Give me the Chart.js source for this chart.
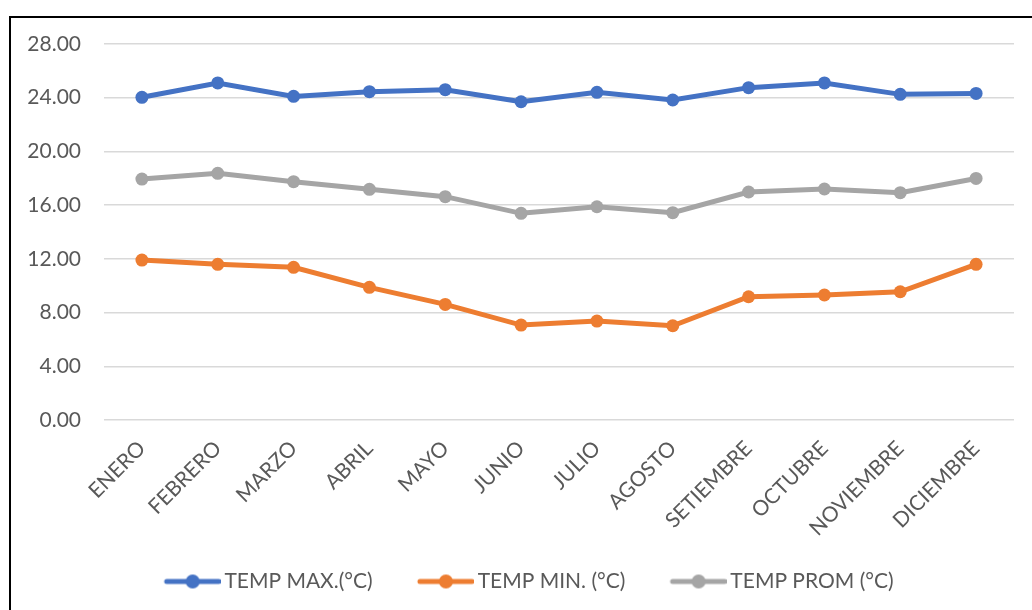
<!DOCTYPE html>
<html>
<head>
<meta charset="utf-8">
<script src="https://cdn.jsdelivr.net/npm/chart.js@4/dist/chart.umd.min.js"></script>
<style>
  html, body { margin: 0; padding: 0; background: #fff; overflow: hidden; }
  #wrap { position: relative; width: 1032px; height: 610px; }
  #frame {
    position: absolute; left: 9px; top: 16px; width: 1100px; height: 700px;
    border-left: 2px solid #000; border-top: 2px solid #000;
  }
  canvas { position: absolute; left: 0; top: 0; }
</style>
</head>
<body>
<div id="wrap">
  <div id="frame"></div>
  <canvas id="chart" width="1032" height="610"></canvas>
</div>
<script>
  // meses
  var MONTHS = ['ENERO', 'FEBRERO', 'MARZO', 'ABRIL', 'MAYO', 'JUNIO', 'JULIO',
    'AGOSTO', 'SETIEMBRE', 'OCTUBRE', 'NOVIEMBRE', 'DICIEMBRE'];

  // temperaturas (°C)
  var TEMP_MAX = [24.03, 25.10, 24.10, 24.45, 24.60, 23.70, 24.40, 23.83, 24.75, 25.10, 24.25, 24.32];
  var TEMP_MIN = [11.91, 11.59, 11.37, 9.88, 8.61, 7.07, 7.37, 7.02, 9.18, 9.31, 9.55, 11.59];
  var TEMP_PROM = [17.94, 18.37, 17.75, 17.18, 16.63, 15.39, 15.88, 15.44, 16.98, 17.20, 16.93, 17.99];

  var SERIES_LABELS = ['TEMP MAX.(°C)', 'TEMP MIN. (°C)', 'TEMP PROM (°C)'];
  var Y_TICKS = [0, 4, 8, 12, 16, 20, 24, 28];

  var COLORS = ['#4472C4', '#ED7D31', '#A5A5A5'];
  var TEXT = '#595959';
  var FONT = 'Lato, "Open Sans", sans-serif';

  // icono de leyenda: línea con punto (alineado a la derecha del lienzo)
  function legendIcon(color) {
    var c = document.createElement('canvas');
    c.width = 98; c.height = 16;
    var g = c.getContext('2d');
    g.strokeStyle = color;
    g.lineWidth = 5;
    g.lineCap = 'round';
    g.beginPath();
    g.moveTo(c.width - 54, 8);
    g.lineTo(c.width - 2, 8);
    g.stroke();
    g.fillStyle = color;
    g.beginPath();
    g.arc(c.width - 28, 8, 7, 0, Math.PI * 2);
    g.fill();
    return c;
  }

  function series(i, values) {
    return {
      label: SERIES_LABELS[i],
      data: values,
      borderColor: COLORS[i],
      backgroundColor: COLORS[i],
      borderWidth: 5,
      pointRadius: 6.5,
      pointBackgroundColor: COLORS[i],
      pointBorderColor: COLORS[i],
      pointBorderWidth: 0,
      pointStyle: 'circle',
      tension: 0
    };
  }

  new Chart(document.getElementById('chart'), {
    type: 'line',
    data: {
      labels: MONTHS,
      datasets: [series(0, TEMP_MAX), series(1, TEMP_MIN), series(2, TEMP_PROM)]
    },
    options: {
      responsive: false,
      animation: false,
      layout: { padding: { left: 9, right: 18, top: 44, bottom: 8 } },
      plugins: {
        tooltip: { enabled: false },
        legend: {
          position: 'bottom',
          labels: {
            usePointStyle: true,
            pointStyleWidth: 84.5,
            padding: 10,
            color: TEXT,
            font: { family: FONT, size: 21 },
            generateLabels: function(chart) {
              var items = Chart.defaults.plugins.legend.labels.generateLabels(chart);
              items.forEach(function(it) {
                it.pointStyle = legendIcon(COLORS[it.datasetIndex]);
              });
              return items;
            }
          }
        }
      },
      scales: {
        x: {
          offset: true,
          grid: { display: false, drawTicks: false },
          border: { display: false },
          ticks: {
            color: TEXT,
            font: { family: FONT, size: 21 },
            minRotation: 45,
            maxRotation: 45,
            padding: 16,
            autoSkip: false
          },
          afterFit: function(scale) { scale.height = 141; }
        },
        y: {
          min: 0,
          max: 28,
          afterBuildTicks: function(scale) {
            scale.ticks = Y_TICKS.map(function(v) { return { value: v }; });
          },
          grid: { color: '#D9D9D9', lineWidth: 1.5, drawTicks: false },
          border: { display: false },
          ticks: {
            color: TEXT,
            font: { family: FONT, size: 21 },
            padding: 23,
            callback: function(v) { return Number(v).toFixed(2); }
          },
          afterFit: function(scale) { scale.width = 95; }
        }
      }
    }
  });
</script>
</body>
</html>
